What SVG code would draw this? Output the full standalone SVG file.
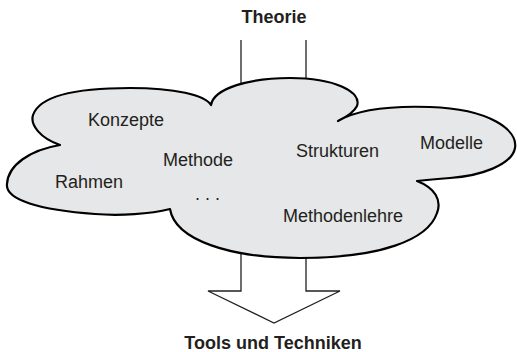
<svg xmlns="http://www.w3.org/2000/svg" width="517" height="352" viewBox="0 0 517 352">
<style>
.t{font-family:"Liberation Sans",Arial,sans-serif;font-size:18px;fill:#231f20}
.b{font-weight:bold;text-anchor:middle}
.ln{stroke:#231f20;stroke-width:1.3;fill:none}
.ar{stroke:#231f20;stroke-width:1.3;fill:#ffffff;stroke-linejoin:miter}
.cl{fill:#e6e7e8;stroke:#000000;stroke-width:2.2;stroke-linejoin:round}
</style>
<rect width="517" height="352" fill="#ffffff"/>
<g id="connectors">
<line class="ln" x1="241" y1="40" x2="241" y2="90"/>
<line class="ln" x1="306" y1="40" x2="306" y2="90"/>
<polygon class="ar" points="241,245 241,291 208,291 274,323 340,291 306,291 306,245"/>
</g>
<g id="cloud">
<path class="cl" d="M211,105 C214,88 250,78 290,78 C335,78 362,92 357,106 C353,114 344,118 338,121 C360,108 400,106 430,107 C490,109 518,130 515,148 C512,165 480,176 450,178 C435,179 425,180 417,181 C435,188 442,200 437,213 C428,240 380,258 300,258 C230,258 175,240 170,209 C150,214 120,216 95,214 C40,210 5,200 7,184 C8,165 30,150 60,145 C40,138 30,125 33,115 C40,95 80,88 130,88 C175,88 205,95 211,105 Z"/>
<text class="t" x="88" y="126">Konzepte</text>
<text class="t" x="163" y="166">Methode</text>
<text class="t" x="55" y="188">Rahmen</text>
<text class="t" x="195" y="200">. . .</text>
<text class="t" x="296" y="157">Strukturen</text>
<text class="t" x="420" y="149">Modelle</text>
<text class="t" x="283" y="222">Methodenlehre</text>
</g>
<g id="theorie">
<text class="t b" x="274" y="23">Theorie</text>
</g>
<g id="tools">
<text class="t b" x="273" y="349">Tools und Techniken</text>
</g>
</svg>
